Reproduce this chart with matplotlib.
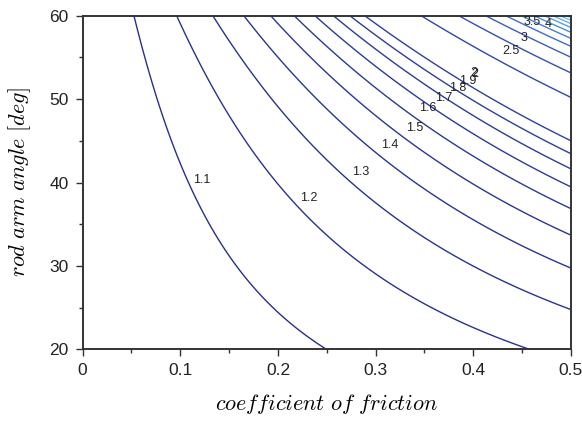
import numpy as np
import matplotlib.pyplot as plt
from matplotlib.colors import LinearSegmentedColormap
from matplotlib.ticker import MultipleLocator

plt.rcParams['font.family'] = ['Liberation Sans', 'DejaVu Sans']
plt.rcParams['mathtext.fontset'] = 'cm'

# grid: coefficient of friction and rod arm angle
mu = np.linspace(0, 0.5, 400)
theta = np.linspace(20, 60, 400)
MU, TH = np.meshgrid(mu, theta)
# force amplification ratio 1/(1 - mu*tan(theta))
Z = 1.0 / (1.0 - MU * np.tan(np.radians(TH)))

levels = [1.1, 1.2, 1.3, 1.4, 1.5, 1.6, 1.7, 1.8, 1.9, 2.0,
          2.5, 3.0, 3.5, 4.0, 4.5, 5.0, 5.5, 6.0, 6.5, 7.0]

# contour label text and where it sits
label_text = ["1.1", "1.2", "1.3", "1.4", "1.5", "1.6", "1.7", "1.8", "1.9",
              "2", "2", "2.5", "3", "3.5", "4"]
label_mu = [0.122, 0.232, 0.285, 0.3145, 0.340, 0.353, 0.370, 0.3836, 0.394,
            0.4006, 0.4012, 0.439, 0.452, 0.4605, 0.4765]
label_theta = [40.3, 38.1, 41.3, 44.5, 46.5, 48.9, 50.1, 51.3, 52.2,
               53.1, 53.0, 55.7, 57.3, 59.2, 59.0]

cmap = LinearSegmentedColormap.from_list(
    "navy_sky", ["#28308c", "#3450b4", "#4a8fd6", "#8ad4f2"])

fig = plt.figure(figsize=(5.82, 4.21), dpi=100)
ax = fig.add_axes([0.142, 0.170, 0.839, 0.793])

ax.contour(MU, TH, Z, levels=levels, cmap=cmap, vmin=1.1, vmax=7.0,
           linewidths=1.0)

for t, x, y in zip(label_text, label_mu, label_theta):
    ax.text(x, y, t, fontsize=9, ha="center", va="center", color="#222222")

ax.set_xlim(0, 0.5)
ax.set_ylim(20, 60)
ax.xaxis.set_major_locator(MultipleLocator(0.1))
ax.xaxis.set_minor_locator(MultipleLocator(0.05))
ax.yaxis.set_major_locator(MultipleLocator(10))
ax.yaxis.set_minor_locator(MultipleLocator(5))
ax.set_xticks([0, 0.1, 0.2, 0.3, 0.4, 0.5])
ax.set_xticklabels(["0", "0.1", "0.2", "0.3", "0.4", "0.5"])
ax.tick_params(which="major", direction="out", length=5, width=1,
               labelsize=12.5, color="#333333", labelcolor="#222222", pad=5)
ax.tick_params(which="minor", direction="out", length=3, width=1,
               color="#333333")
for s in ax.spines.values():
    s.set_color("#333333")
    s.set_linewidth(1.4)

ax.set_xlabel(r"$coefficient\ of\ friction$", fontsize=16, labelpad=10)
ax.set_ylabel(r"$rod\ arm\ angle\ [deg]$", fontsize=16, labelpad=12)

fig.savefig("out.png", dpi=100)
